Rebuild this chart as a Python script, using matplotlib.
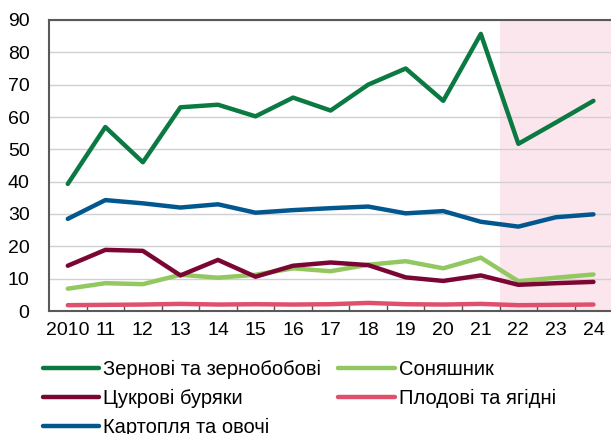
import matplotlib
matplotlib.use('Agg')
import matplotlib.pyplot as plt
import numpy as np

plt.rcParams['font.family'] = ['Liberation Sans', 'DejaVu Sans']

years = ['2010', '11', '12', '13', '14', '15', '16', '17', '18', '19', '20', '21', '22', '23', '24']

grain = [39.3, 56.9, 46.0, 63.0, 63.8, 60.2, 66.0, 62.0, 70.0, 75.0, 65.0, 85.7, 51.7, 58.3, 65.0]
sunflower = [6.9, 8.6, 8.3, 11.2, 10.3, 11.2, 13.2, 12.3, 14.3, 15.4, 13.2, 16.5, 9.2, 10.3, 11.3]
sugar_beet = [14.0, 18.9, 18.6, 11.0, 15.8, 10.6, 14.0, 15.0, 14.2, 10.4, 9.3, 11.0, 8.1, 8.6, 9.0]
fruits = [1.8, 1.9, 2.0, 2.2, 2.0, 2.1, 2.0, 2.1, 2.5, 2.1, 2.0, 2.2, 1.8, 1.9, 2.0]
potatoes = [28.5, 34.3, 33.3, 32.0, 33.0, 30.4, 31.2, 31.8, 32.3, 30.2, 30.9, 27.6, 26.1, 29.0, 29.9]

labels = ['Зернові та зернобобові', 'Соняшник', 'Цукрові буряки',
          'Плодові та ягідні', 'Картопля та овочі']
colors = ['#0b7a42', '#92c85f', '#7b0633', '#e0506c', '#03578f']
series = [grain, sunflower, sugar_beet, fruits, potatoes]

fig = plt.figure(figsize=(6.11, 4.34), dpi=100)
ax = fig.add_axes([49 / 611, 1 - 311 / 434, 1 - 49 / 611 + 0.002, 291 / 434])

x = np.arange(len(years))
# shaded period from 2022 onwards
ax.axvspan(years.index('22') - 0.5, len(years) - 0.5, color='#fce6ee', zorder=0, lw=0)

for vals, c, lab in zip(series, colors, labels):
    ax.plot(x, vals, color=c, lw=3.2, label=lab, solid_capstyle='round', zorder=3)

ax.set_xlim(-0.5, 14.5)
ax.set_ylim(0, 90)
ax.set_yticks(range(0, 91, 10))
ax.yaxis.grid(True, color='#d0d0d4', lw=1.0, zorder=1)
ax.set_axisbelow(True)

ax.set_xticks(x)
ax.set_xticklabels(years)
ax.set_xticks(np.arange(0.5, 14.5, 1), minor=True)
ax.tick_params(axis='x', which='major', length=0, pad=8, labelsize=14)
ax.tick_params(axis='x', which='minor', direction='in', length=4, width=1, color='#555555')
ax.tick_params(axis='y', length=0, pad=14, labelsize=14)

for s in ['left', 'top', 'bottom']:
    ax.spines[s].set_color('#595959')
    ax.spines[s].set_linewidth(1.5)
ax.spines['right'].set_visible(False)

# legend order: row-wise pairs
h, l = ax.get_legend_handles_labels()
order = [0, 2, 4, 1, 3]
fig.legend([h[i] for i in order], [l[i] for i in order], ncol=2,
           loc='upper left', bbox_to_anchor=(0.057, 0.19), frameon=False,
           fontsize=14.5, handlelength=2.8, handletextpad=0.2,
           labelspacing=0.5, columnspacing=0.85, borderaxespad=0)

fig.savefig('out.png', dpi=100)
